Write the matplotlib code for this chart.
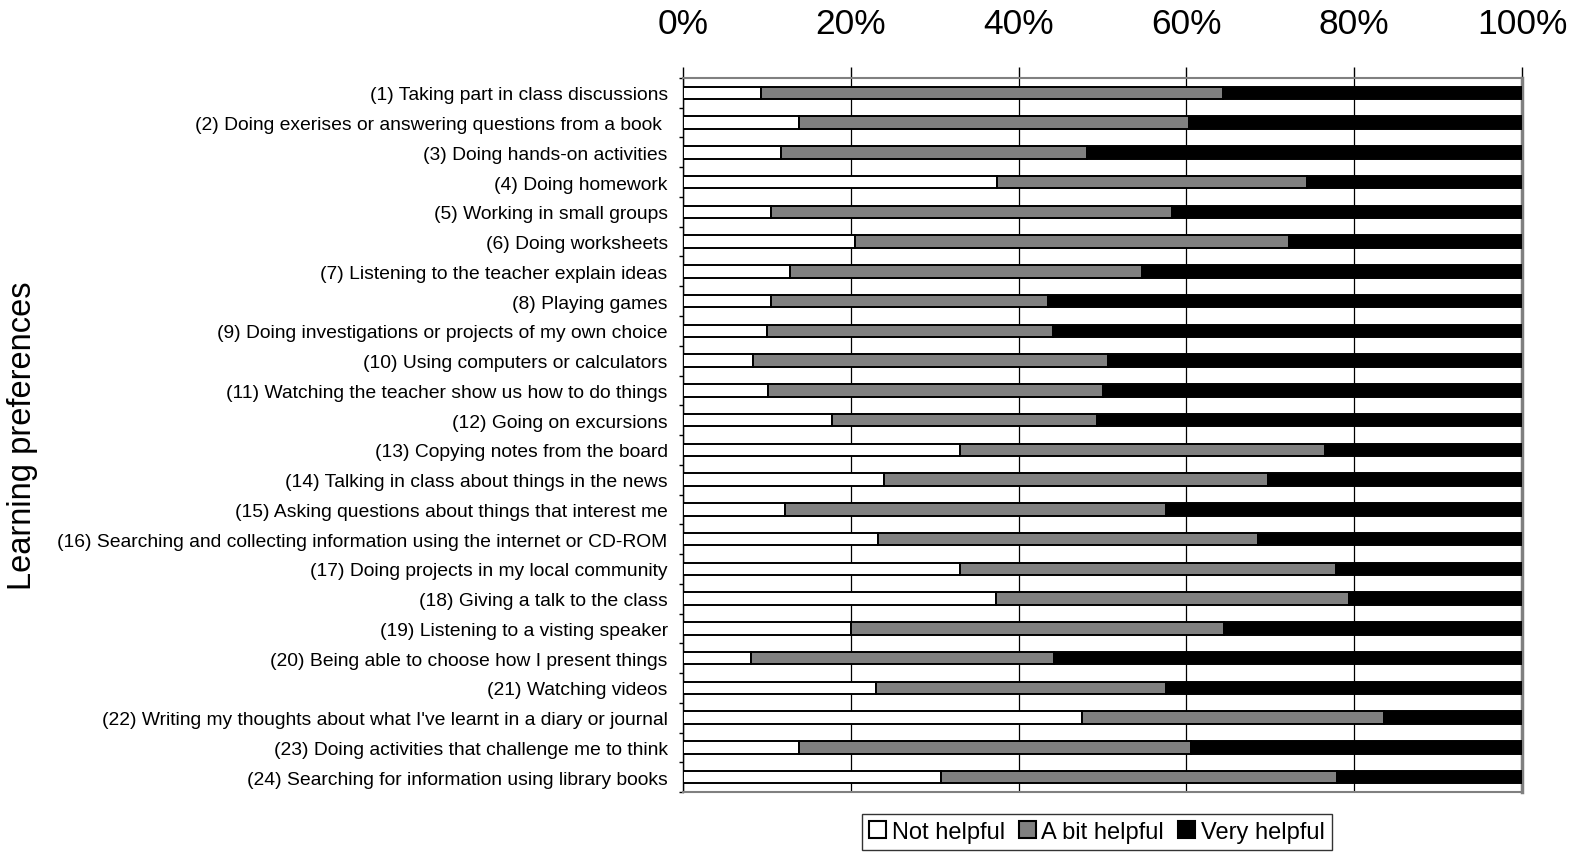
import matplotlib
matplotlib.use("Agg")
import matplotlib.pyplot as plt
from matplotlib.ticker import FuncFormatter
import numpy as np

plt.rcParams['font.family'] = ['Liberation Sans', 'DejaVu Sans']

# --- survey data (percent of students) ---
items = [
    "(1) Taking part in class discussions",
    "(2) Doing exerises or answering questions from a book ",
    "(3) Doing hands-on activities",
    "(4) Doing homework",
    "(5) Working in small groups",
    "(6) Doing worksheets",
    "(7) Listening to the teacher explain ideas",
    "(8) Playing games",
    "(9) Doing investigations or projects of my own choice",
    "(10) Using computers or calculators",
    "(11) Watching the teacher show us how to do things",
    "(12) Going on excursions",
    "(13) Copying notes from the board",
    "(14) Talking in class about things in the news",
    "(15) Asking questions about things that interest me",
    "(16) Searching and collecting information using the internet or CD-ROM",
    "(17) Doing projects in my local community",
    "(18) Giving a talk to the class",
    "(19) Listening to a visting speaker",
    "(20) Being able to choose how I present things",
    "(21) Watching videos",
    "(22) Writing my thoughts about what I've learnt in a diary or journal",
    "(23) Doing activities that challenge me to think",
    "(24) Searching for information using library books",
]
not_helpful = [9.3, 13.8, 11.7, 37.4, 10.5, 20.5, 12.8, 10.5, 10.0, 8.3, 10.1, 17.7,
               33.0, 23.9, 12.2, 23.2, 33.0, 37.3, 20.0, 8.1, 23.0, 47.6, 13.8, 30.7]
bit_helpful = [55.1, 46.5, 36.4, 37.0, 47.8, 51.7, 41.9, 33.0, 34.1, 42.4, 39.9, 31.6,
               43.5, 45.8, 45.4, 45.3, 44.8, 42.1, 44.5, 36.1, 34.6, 36.0, 46.7, 47.2]
very_helpful = [35.6, 39.7, 51.9, 25.6, 41.7, 27.8, 45.3, 56.5, 55.9, 49.3, 50.0, 50.7,
                23.5, 30.3, 42.4, 31.5, 22.2, 20.6, 35.5, 55.8, 42.4, 16.4, 39.5, 22.1]
series = ["Not helpful", "A bit helpful", "Very helpful"]
colors = ["#FFFFFF", "#808080", "#000000"]

fig = plt.figure(figsize=(15.73, 8.53), dpi=100)
ax = fig.add_axes([0.4342, 0.0703, 0.5334, 0.8371])

y = np.arange(len(items))
left = np.zeros(len(items))
for name, vals, col in zip(series, [not_helpful, bit_helpful, very_helpful], colors):
    vals = np.array(vals)
    ax.barh(y, vals, left=left, height=0.42, color=col, edgecolor="black",
            linewidth=1.4, label=name, zorder=3)
    left += vals

ax.set_xlim(0, 100)
ax.set_ylim(len(items) - 0.5, -0.5)

# x axis on top with percent labels
ax.xaxis.tick_top()
ax.set_xticks(np.arange(0, 101, 20))
ax.xaxis.set_major_formatter(FuncFormatter(lambda v, p: f"{int(v)}%"))
ax.tick_params(axis="x", which="major", labelsize=25.5, length=8, width=1,
               pad=19, color="black")
ax.grid(axis="x", color="black", linewidth=0.9, zorder=1)

# category labels, ticks between categories
ax.set_yticks(y)
ax.set_yticklabels(items, fontsize=13.9)
ax.tick_params(axis="y", which="major", length=0, pad=11)
ax.set_yticks(np.arange(-0.5, len(items), 1), minor=True)
ax.tick_params(axis="y", which="minor", length=3, width=1, direction="out")
ax.set_ylabel("Learning preferences", fontsize=23.5)
ax.yaxis.set_label_coords(-0.769, 0.5)

for side in ["top", "bottom"]:
    ax.spines[side].set_color("#808080")
    ax.spines[side].set_linewidth(1.5)
ax.spines["right"].set_color("#808080")
ax.spines["right"].set_linewidth(2.5)
ax.spines["left"].set_color("black")
ax.spines["left"].set_linewidth(1.0)

leg = fig.legend(loc="center", bbox_to_anchor=(1097 / 1573, 1 - 833 / 853), ncol=3,
                 fontsize=17, frameon=True, fancybox=False, handlelength=0.7,
                 handleheight=0.7, handletextpad=0.25, columnspacing=0.6,
                 borderpad=0.3, borderaxespad=0)
leg.get_frame().set_edgecolor("black")
leg.get_frame().set_linewidth(1.0)
for h in leg.legend_handles:
    h.set_linewidth(1.5)

fig.savefig("out.png", dpi=100)
